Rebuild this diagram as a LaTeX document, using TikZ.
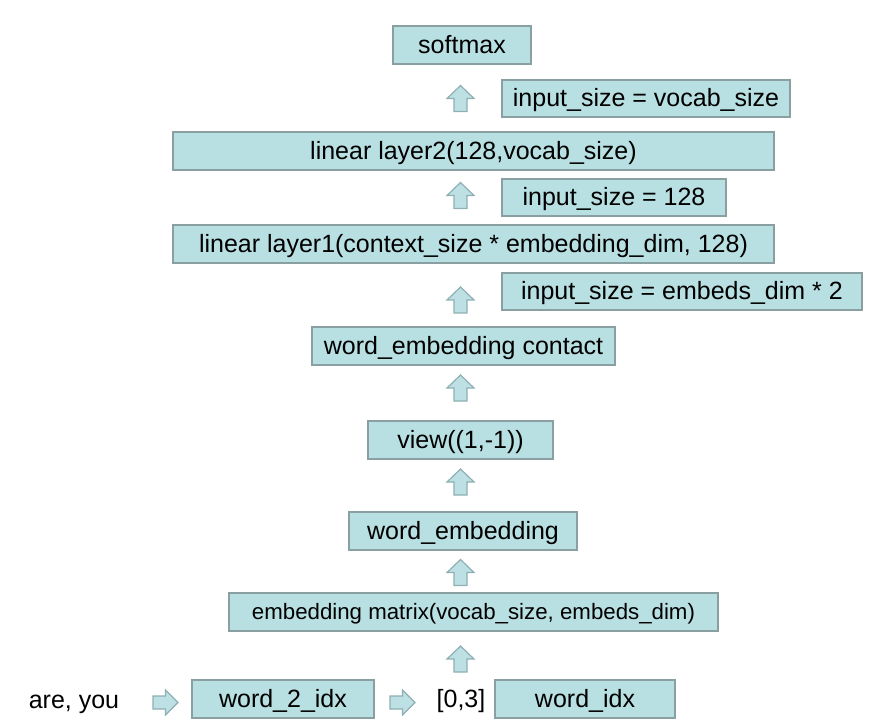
\documentclass[tikz,border=0pt]{standalone}
\usepackage{fontspec}
\setmainfont{Liberation Sans}
\definecolor{boxfill}{HTML}{B8DFE2}
\definecolor{boxline}{HTML}{8A9FA2}
\definecolor{arrfill}{HTML}{BCE0E3}
\definecolor{arrline}{HTML}{8FAFB3}
\tikzset{
  txt/.style={font=\fontsize{18.75}{20}\selectfont, text height=14.6pt, text depth=2.2pt},
  smalltxt/.style={font=\fontsize{16.7}{18}\selectfont, text height=13pt, text depth=2pt},
  blk/.style={txt, draw=boxline, fill=boxfill, line width=0.9pt, inner sep=0pt,
    minimum height=38*0.75pt},
  sblk/.style={blk, minimum height=37*0.75pt},
  lbl/.style={txt, inner sep=0pt},
  arrsty/.style={draw=arrline, fill=arrfill, line width=0.9pt, line join=miter},
  uparr/.pic={\path[arrsty] (0,-13) -- (13.5,0) -- (6.5,0) -- (6.5,13) -- (-6.5,13) -- (-6.5,0) -- (-13.5,0) -- cycle;},
  rtarr/.pic={\path[arrsty] (12.5,0) -- (0,-12.5) -- (0,-6.5) -- (-12.5,-6.5) -- (-12.5,6.5) -- (0,6.5) -- (0,12.5) -- cycle;}
}
\begin{document}
\begin{tikzpicture}[x=0.75pt,y=-0.75pt]
\useasboundingbox (0,0) rectangle (871,727);
% network stack, bottom to top
\node[blk, minimum width=138*0.75pt] (softmax) at (462,45) {softmax};
\node[sblk, minimum width=288*0.75pt] (in3) at (646,98.5) {input\_size = vocab\_size};
\node[blk, minimum width=601*0.75pt] (lin2) at (473.5,151) {linear layer2(128,vocab\_size)};
\node[sblk, minimum width=224*0.75pt] (in2) at (614,197.5) {input\_size = 128};
\node[blk, minimum width=601*0.75pt] (lin1) at (473.5,244) {linear layer1(context\_size * embedding\_dim, 128)};
\node[sblk, minimum width=360*0.75pt] (in1) at (682,291.5) {input\_size = embeds\_dim * 2};
\node[blk, minimum width=303*0.75pt] (concat) at (463.5,346) {word\_embedding contact};
\node[blk, minimum width=185*0.75pt] (view) at (460.5,440) {view((1,-1))};
\node[blk, minimum width=228*0.75pt] (wemb) at (463,531) {word\_embedding};
\node[blk, smalltxt, minimum width=489*0.75pt] (emat) at (473.5,612) {embedding matrix(vocab\_size, embeds\_dim)};
% input row
\node[lbl] (words) at (74,700) {are, you};
\node[blk, minimum width=182*0.75pt] (w2i) at (283,699) {word\_2\_idx};
\node[lbl] (idx) at (461,699) {[0,3]};
\node[blk, minimum width=180*0.75pt] (widx) at (585,699) {word\_idx};
% block arrows
\foreach \yy in {98.5,195.5,300,388,482,572.5,659}
  \pic at (460.5,\yy) {uparr};
\pic at (165.5,702.5) {rtarr};
\pic at (402.5,702.5) {rtarr};
\end{tikzpicture}
\end{document}
